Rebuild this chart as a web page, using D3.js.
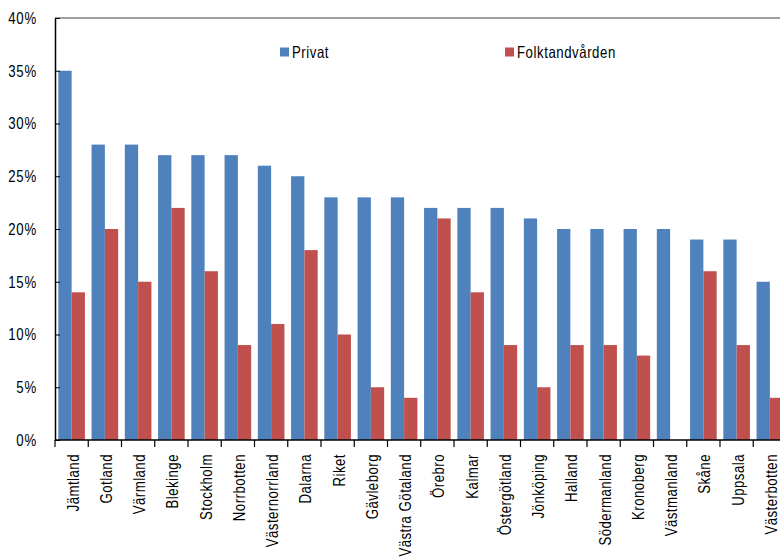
<!DOCTYPE html>
<html>
<head>
<meta charset="utf-8">
<script src="https://cdn.jsdelivr.net/npm/d3@7"></script>
<style>
  html, body { margin: 0; padding: 0; background: #fff; }
  svg text { font-family: "Liberation Sans", Arial, sans-serif; fill: #000; }
</style>
</head>
<body>
<svg id="chart" width="780" height="557"></svg>
<script>
const categories = ["Jämtland","Gotland","Värmland","Blekinge","Stockholm","Norrbotten","Västernorrland","Dalarna","Riket","Gävleborg","Västra Götaland","Örebro","Kalmar","Östergötland","Jönköping","Halland","Södermanland","Kronoberg","Västmanland","Skåne","Uppsala","Västerbotten"];
const seriesNames = ["Privat", "Folktandvården"];
const privat = [35,28,28,27,27,27,26,25,23,23,23,22,22,22,21,20,20,20,20,19,19,15];
const folktandvarden = [14,20,15,22,16,9,11,18,10,5,4,21,14,9,5,9,9,8,null,16,9,4];
const yTicks = [0,5,10,15,20,25,30,35,40];
const colors = ["#4F81BD", "#C0504D"];

const svg = d3.select("#chart");
const mLeft = 55, mTop = 18, mBottom = 440;
const step = 33.25;
const mRight = mLeft + step * categories.length;
const NARROW = 0.8;

const x = d3.scaleBand().domain(categories).range([mLeft, mRight]).padding(0);
const x1 = d3.scaleBand().domain(seriesNames).range([x.bandwidth()*0.1, x.bandwidth()*0.9]).padding(0);
const y = d3.scaleLinear().domain([0, 40]).range([mBottom, mTop]);

const seriesValues = [privat, folktandvarden];

// top border
svg.append("line").attr("x1", mLeft).attr("x2", mRight).attr("y1", mTop).attr("y2", mTop)
  .attr("stroke", "#7f7f7f").attr("stroke-width", 1.5);

// bars
seriesNames.forEach((s, si) => {
  svg.append("g").selectAll("rect")
    .data(categories.map((c, i) => ({c, v: seriesValues[si][i]})).filter(d => d.v != null))
    .join("rect")
    .attr("x", d => x(d.c) + x1(s))
    .attr("y", d => y(d.v))
    .attr("width", x1.bandwidth())
    .attr("height", d => mBottom - y(d.v))
    .attr("fill", colors[si]);
});

// y axis
const yAxis = d3.axisLeft(y).tickValues(yTicks).tickFormat(d => d + "%").tickSizeInner(-5).tickSizeOuter(0);
const gy = svg.append("g").attr("transform", `translate(${mLeft},0)`).call(yAxis);
gy.select(".domain").attr("stroke", "#000").attr("stroke-width", 1.5);
gy.selectAll(".tick line").attr("stroke", "#000");
gy.selectAll(".tick text")
  .attr("x", 0)
  .attr("transform", `translate(-18,0) scale(${NARROW},1)`)
  .style("font-size", "16.5px").style("letter-spacing", "1px");

// x axis line
svg.append("line").attr("x1", mLeft).attr("x2", mRight).attr("y1", mBottom).attr("y2", mBottom)
  .attr("stroke", "#000").attr("stroke-width", 1.5);
// x ticks at category boundaries
const boundaries = categories.map(c => x(c)).concat([mRight]);
svg.append("g").selectAll("line").data(boundaries).join("line")
  .attr("x1", d => d).attr("x2", d => d).attr("y1", mBottom).attr("y2", mBottom + 7)
  .attr("stroke", "#000").attr("stroke-width", 1.2);

// x labels
svg.append("g").selectAll("text").data(categories).join("text")
  .attr("transform", d => `translate(${x(d) + x.bandwidth()/2},${mBottom + 14}) rotate(-90) scale(${NARROW},1)`)
  .attr("text-anchor", "end")
  .attr("dy", "0.42em")
  .style("font-size", "16.5px")
  .style("letter-spacing", "0.6px")
  .text(d => d);

// legend
const legendPos = [{x: 280, y: 52}, {x: 505, y: 52}];
seriesNames.forEach((s, i) => {
  const g = svg.append("g").attr("transform", `translate(${legendPos[i].x},${legendPos[i].y})`);
  g.append("rect").attr("x", 0).attr("y", -4.5).attr("width", 9).attr("height", 9).attr("fill", colors[i]);
  g.append("text").attr("transform", `translate(12,0) scale(${NARROW},1)`).attr("dy", "0.35em")
    .style("font-size", "16.5px").style("letter-spacing", "0.7px").text(s);
});
</script>
</body>
</html>
